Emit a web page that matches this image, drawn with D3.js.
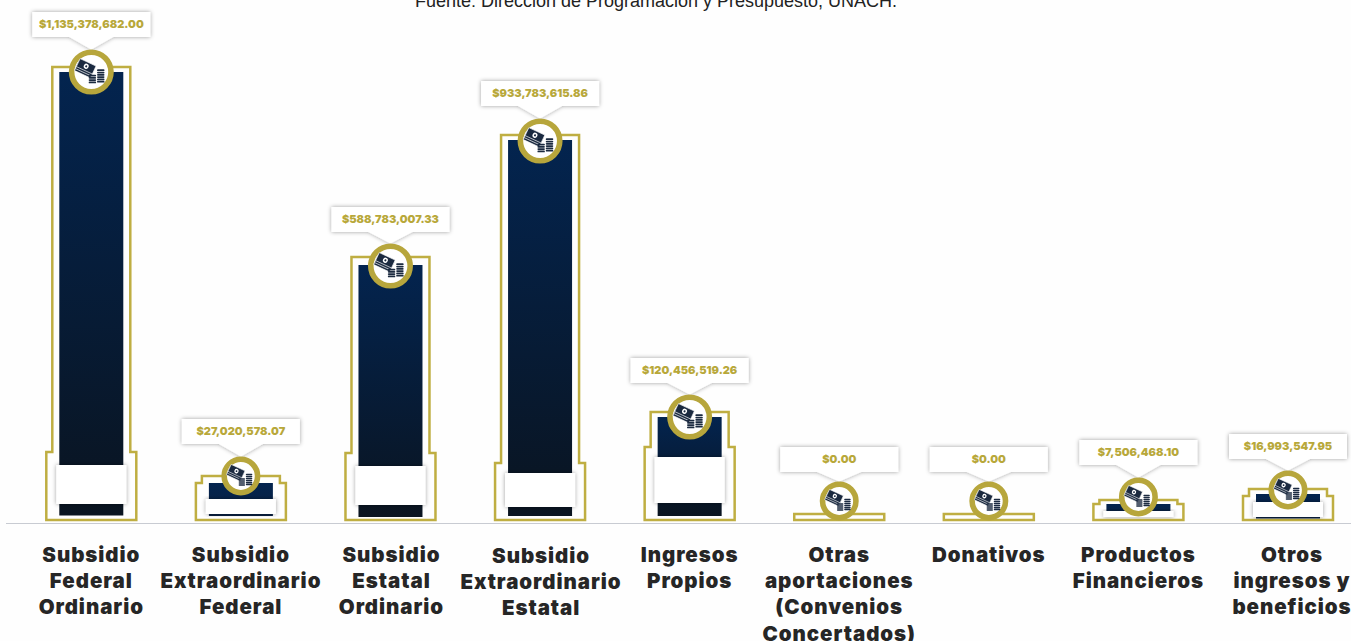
<!DOCTYPE html>
<html><head><meta charset="utf-8"><style>html,body{margin:0;padding:0;background:#fefefe;overflow:hidden}svg{display:block}</style>
<script src="https://cdn.jsdelivr.net/npm/d3@7"></script></head><body><svg id="c" width="1351" height="641"></svg>
<script>
const categories=[["Subsidio","Federal","Ordinario"],["Subsidio","Extraordinario","Federal"],["Subsidio","Estatal","Ordinario"],["Subsidio","Extraordinario","Estatal"],["Ingresos","Propios"],["Otras","aportaciones","(Convenios","Concertados)"],["Donativos"],["Productos","Financieros"],["Otros","ingresos y","beneficios"]];
const values=[1135378682.00,27020578.07,588783007.33,933783615.86,120456519.26,0,0,7506468.10,16993547.95];
const sourceNote="Fuente: Dirección de Programación y Presupuesto, UNACH.";
const W=1351;
const svg=d3.select("#c");
const defs=svg.append("defs");
const f=defs.append("filter").attr("id","sh").attr("x","-10%").attr("y","-20%").attr("width","120%").attr("height","140%");
f.append("feDropShadow").attr("dx",0).attr("dy",0).attr("stdDeviation",2).attr("flood-color","#000").attr("flood-opacity",.38);
// The source is an infographic whose marks grow non-linearly: each scale maps value knots to its drawn position
const knots=[0,7506468,16993548,27020578,120456519,588783007,933783616,1135378682];
const scale=r=>d3.scaleLinear().domain(knots).range(r);
const x=d3.scalePoint().domain(d3.range(9)).range([91.3,1288]);
const yTop=scale([514,500,489,476,412,257,135,67]);
const yShoulder=scale([514,504,496,483,447,453,463,452]);
const yFill=scale([514,504,494,483,417,265,140,72]);
const yFillEnd=scale([514,515,518.5,516,516,517,516,515.5]);
const yMask=scale([514,511,502,499,457,466,473,465]);
const yMaskEnd=scale([514,517,517,514,503,505,507,504]);
const yBadge=scale([501,497,490,476,417,266,141,72]);
const yLabel=scale([447,440,434,419,358,207,81,12]);
const rBadge=d3.scaleThreshold().domain([1e8]).range([19.5,22.5]);
const base=520;
svg.append("text").attr("x",656).attr("y",7).attr("text-anchor","middle").attr("font-family","Liberation Sans").attr("font-size",18).attr("fill","#222").text(sourceNote);
svg.append("line").attr("x1",6).attr("x2",W).attr("y1",523.5).attr("y2",523.5).attr("stroke","#c8cbd2").attr("stroke-width",1);
const line=d3.line();
const money=d3.format("$,.2f");
svg.selectAll("g.b").data(values).join("g").attr("class","b").each(function(v,i){
 const s=d3.select(this),cx=x(i),top=yTop(v),sh=yShoulder(v),cy=yBadge(v),r=rBadge(v),lt=yLabel(v);
 const pts=[[cx-45,base],[cx-45,sh],[cx-39,sh],[cx-39,top],[cx+39,top],[cx+39,sh],[cx+45,sh],[cx+45,base]];
 s.append("path").attr("d",line(pts)+"Z").attr("fill","#fefefe").attr("stroke","#bfae42").attr("stroke-width",2.5);
 if(v>0){
  const id="navy"+i,a=yFill(v),b=yFillEnd(v);
  const gr=defs.append("linearGradient").attr("id",id).attr("x1",0).attr("x2",0).attr("y1",0).attr("y2",1);
  gr.append("stop").attr("offset",0).attr("stop-color","#03244f");
  gr.append("stop").attr("offset",1).attr("stop-color",b-a<60?"#0a2040":"#0a1420");
  s.append("rect").attr("x",cx-32).attr("width",64).attr("y",a).attr("height",b-a).attr("fill",`url(#${id})`);
  s.append("rect").attr("x",cx-35).attr("width",70).attr("y",yMask(v)).attr("height",yMaskEnd(v)-yMask(v)).attr("fill","#fff").attr("filter","url(#sh)");
 }
 const lb=lt+25;
 s.append("path").attr("d",line([[cx-59,lt],[cx+59,lt],[cx+59,lb],[cx+22,lb],[cx,cy-r],[cx-22,lb],[cx-59,lb]])+"Z").attr("fill","#fff").attr("filter","url(#sh)");
 s.append("text").attr("x",cx).attr("y",lt+16).attr("text-anchor","middle").attr("font-family","Inter").attr("font-weight",900).attr("font-size",11).attr("fill","#b8a83a").text(money(v));
 s.append("circle").attr("cx",cx).attr("cy",cy).attr("r",r-2.8).attr("fill","#fff").attr("stroke","#b7a63c").attr("stroke-width",5.6);
 const k=r/22*.86;
 const ic=s.append("g").attr("transform",`translate(${cx},${cy}) scale(${k})`).attr("fill","#1b2a40");
 const bill=ic.append("g").attr("transform","translate(-6,-6) rotate(25)");
 [5,2.5,0].forEach(o=>bill.append("rect").attr("x",-10).attr("y",-5.5+o).attr("width",20).attr("height",10).attr("stroke","#fff").attr("stroke-width",.7));
 bill.append("ellipse").attr("cx",0).attr("cy",-.5).attr("rx",2.8).attr("ry",3).attr("fill","#fff");
 bill.append("circle").attr("cx",0).attr("cy",-.5).attr("r",1.2);
 [[-3,3,4],[6.5,-3,6]].forEach(([a,b,n])=>d3.range(n).forEach(j=>ic.append("rect").attr("x",a).attr("y",b+j*2.6).attr("width",8.5).attr("height",2).attr("rx",1)));
});
svg.selectAll("g.l").data(categories).join("g").attr("class","l").each(function(c,i){
 d3.select(this).selectAll("text").data(c).join("text").attr("x",x(i)+(i===8?4:0)+(i===2||i===3?1:0)).attr("y",(d,j)=>562+(i===3?1:0)+j*26.2).attr("text-anchor","middle").attr("font-family","Inter").attr("font-weight",900).attr("font-size",20.5).attr("letter-spacing",.95).attr("fill","#262626").text(d=>d);
});
</script></body></html>
